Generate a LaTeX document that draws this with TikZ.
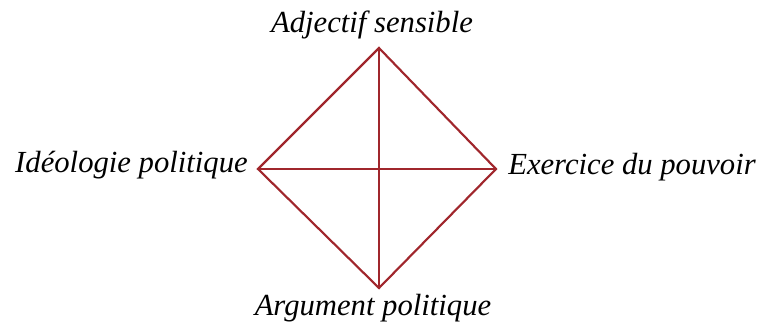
\documentclass[tikz,border=0pt]{standalone}
\usepackage{fontspec}
\setmainfont{Liberation Serif}
\usepackage{tikz}
\usetikzlibrary{positioning}
\definecolor{Wine}{HTML}{A0262C}

\begin{document}
\begin{tikzpicture}[x=0.75pt,y=-0.75pt,
    edge/.style={Wine,line width=1.6pt},
    pole/.style={inner sep=0pt,font=\fontsize{23}{27}\selectfont\itshape}]
  \useasboundingbox (0,0) rectangle (758,324);
  \coordinate (top) at (379,48);
  \coordinate (bot) at (379,288);
  \coordinate (lft) at (258,169);
  \coordinate (rgt) at (496,169);
  \draw[edge,line join=miter] (top)--(rgt)--(bot)--(lft)--cycle;
  \draw[edge] (top)--(bot);
  \draw[edge] (lft)--(rgt);
  \node[pole,anchor=base] (adj) at (372,33) {Adjectif sensible};
  \node[pole,anchor=base east] (ideo) at (248,173) {Idéologie politique};
  \node[pole,anchor=base west] (exer) at (508,175) {Exercice du pouvoir};
  \node[pole,anchor=base] (arg) at (373,316) {Argument politique};
\end{tikzpicture}
\end{document}
